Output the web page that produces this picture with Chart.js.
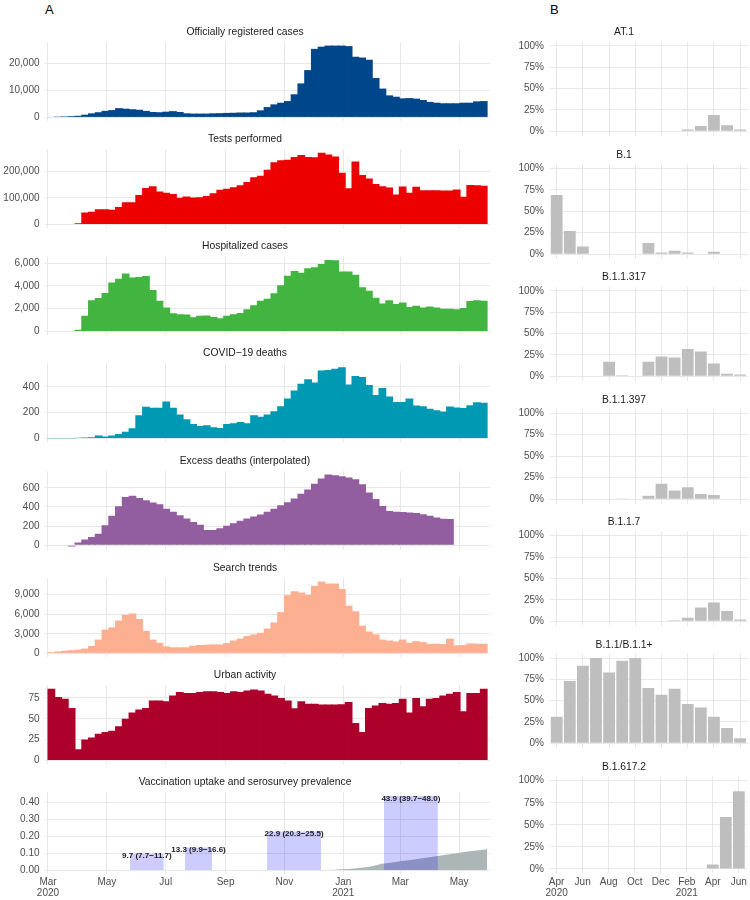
<!DOCTYPE html>
<html>
<head>
<meta charset="utf-8">
<script src="https://cdn.jsdelivr.net/npm/chart.js@4.4.1/dist/chart.umd.min.js"></script>
<style>
  html, body { margin: 0; padding: 0; background: #fff; overflow: hidden; }
  body { width: 750px; height: 900px; position: relative; font-family: "Liberation Sans", Arial, sans-serif; }
  .panel { position: absolute; }
  .tag { position: absolute; font-size: 13px; line-height: 13px; color: #000; }
</style>
</head>
<body>
<div class="tag" style="left:45px; top:3px">A</div>
<div class="tag" style="left:550px; top:3px">B</div>
<script>
// ---- data: weekly series, first week starts 2020-03-01 ----
const firstDay = '2020-03-01'

const casesWeekly = [200, 300, 350, 450, 600, 1000, 1500, 1900, 2400, 2700,
  3400, 3200, 3000, 2800, 2400, 2000, 1900, 2100, 2300, 2000,
  1500, 1400, 1400, 1400, 1500, 1550, 1650, 1700, 1800, 1800,
  1900, 2600, 3800, 4800, 5400, 6000, 8500, 12500, 17400, 25200,
  26000, 26400, 26400, 26400, 26200, 22300, 22000, 21200, 14500, 10600,
  8100, 7600, 7000, 7100, 6900, 6400, 5700, 5400, 5200, 5200,
  5200, 5400, 5400, 5900, 6000]

const testsWeekly = [2000, 2000, 2000, 2000, 4000, 45000, 48000, 57000, 57000, 55000,
  65000, 83000, 83000, 110000, 137000, 143000, 124000, 119000, 114000, 100000,
  105000, 101000, 102000, 107000, 117000, 130000, 134000, 140000, 147000, 159000,
  177000, 183000, 205000, 233000, 241000, 243000, 253000, 261000, 253000, 252000,
  269000, 263000, 255000, 194000, 136000, 236000, 186000, 172000, 152000, 143000,
  139000, 112000, 142000, 119000, 141000, 128000, 128000, 128000, 127000, 127000,
  131000, 104000, 148000, 147000, 145000]

const hospWeekly = [30, 30, 30, 30, 150, 1380, 2730, 2930, 3380, 4300,
  4620, 5100, 4730, 4790, 4870, 3630, 2700, 2110, 1600, 1520,
  1490, 1240, 1380, 1410, 1270, 1150, 1380, 1520, 1630, 1940,
  2310, 2700, 2870, 3350, 4060, 4900, 5300, 5150, 5550, 5630,
  5920, 6280, 6250, 5270, 5270, 4990, 3890, 3580, 2960, 2450,
  2730, 2400, 2540, 2140, 2250, 2110, 2200, 2110, 2000, 2000,
  1940, 2060, 2680, 2730, 2700]

const deathsWeekly = [2, 2, 2, 2, 5, 7, 10, 22, 15, 22,
  35, 52, 80, 181, 246, 238, 238, 288, 238, 186,
  149, 112, 97, 102, 87, 82, 112, 119, 127, 119,
  181, 169, 186, 211, 251, 311, 373, 425, 460, 435,
  529, 532, 542, 554, 420, 485, 477, 415, 338, 393,
  326, 283, 283, 311, 256, 251, 231, 219, 209, 249,
  241, 236, 258, 281, 278]

const excessWeekly = [null, null, null, -12, 30, 60, 87, 120, 210, 307,
  407, 503, 517, 493, 470, 447, 427, 380, 350, 313,
  280, 243, 213, 160, 160, 177, 203, 230, 257, 280,
  300, 320, 350, 380, 417, 450, 487, 537, 583, 643,
  697, 740, 730, 720, 707, 690, 637, 550, 483, 410,
  357, 350, 347, 343, 337, 323, 307, 290, 277, 273,
  null, null, null, null, null]

const searchWeekly = [200, 300, 400, 490, 590, 740, 1130, 2110, 3640, 3980,
  5020, 5900, 6100, 5260, 3440, 2110, 1620, 1080, 930, 930,
  930, 1180, 1280, 1330, 1380, 1380, 1570, 1970, 2260, 2660,
  2900, 3150, 3790, 4720, 6300, 8900, 9490, 9290, 8950, 10330,
  10970, 10670, 10670, 9840, 7280, 6440, 4230, 3340, 2900, 2110,
  1970, 1820, 2110, 1620, 1870, 1720, 1430, 1480, 1430, 2260,
  1230, 1280, 1520, 1480, 1480]

const urbanWeekly = [86, 76, 74, 63, 13.5, 25, 27.5, 32, 34, 35.5,
  41, 50, 57.5, 61, 63, 72, 72, 71, 78, 82,
  81, 81, 82, 83, 83, 82, 81, 83, 82, 84,
  85, 84, 80, 78, 75, 72, 62.5, 71, 68, 68,
  67, 67, 67, 67.5, 70, 45, 34, 63, 66, 69,
  68, 69, 74, 57.5, 75, 65, 74, 75, 78, 80,
  82, 59, 81, 81, 86]

// vaccination uptake (share of population)
const vaccDates = ['2020-12-16', '2020-12-23', '2020-12-30', '2021-01-06', '2021-01-13',
  '2021-01-20', '2021-01-27', '2021-02-03', '2021-02-10', '2021-02-17', '2021-02-24',
  '2021-03-03', '2021-03-10', '2021-03-17', '2021-03-24', '2021-03-31', '2021-04-07',
  '2021-04-14', '2021-04-21', '2021-04-28', '2021-05-05', '2021-05-12', '2021-05-19',
  '2021-05-26', '2021-05-30']
const vaccUptake = [0, 0.002, 0.004, 0.006, 0.009, 0.013, 0.018, 0.027, 0.037, 0.042, 0.047,
  0.053, 0.058, 0.064, 0.070, 0.076, 0.082, 0.088, 0.094, 0.100, 0.106, 0.111, 0.116,
  0.121, 0.124]

// serosurveys
const seroStart = ['2020-05-25', '2020-07-21', '2020-10-14', '2021-02-12']
const seroEnd = ['2020-06-29', '2020-08-18', '2020-12-09', '2021-04-09']
const seroPrev = [0.097, 0.133, 0.229, 0.439]
const seroLow = [7.7, 9.9, 20.3, 39.7]
const seroHigh = [11.7, 16.6, 25.5, 48.0]

// left axis ticks
const leftTickDates = ['2020-03-01', '2020-05-01', '2020-07-01', '2020-09-01',
  '2020-11-01', '2021-01-01', '2021-03-01', '2021-05-01']
const leftTickLabels = ['Mar\n2020', 'May', 'Jul', 'Sep', 'Nov', 'Jan\n2021', 'Mar', 'May']
const casesTicks = [0, 10000, 20000]
const testsTicks = [0, 100000, 200000]
const hospTicks = [0, 2000, 4000, 6000]
const deathsTicks = [0, 200, 400]
const excessTicks = [0, 200, 400, 600]
const searchTicks = [0, 3000, 6000, 9000]
const urbanTicks = [0, 25, 50, 75]
const seroTicks = [0, 0.1, 0.2, 0.3, 0.4]

// ---- variants: monthly share, Apr 2020 .. Jun 2021 ----
const variantMonths = ['2020-04', '2020-05', '2020-06', '2020-07', '2020-08', '2020-09',
  '2020-10', '2020-11', '2020-12', '2021-01', '2021-02', '2021-03', '2021-04', '2021-05', '2021-06']
const at1Share = [0, 0, 0, 0, 0, 0, 0, 0, 0, 0, 0.02, 0.06, 0.19, 0.07, 0.02]
const b1Share = [0.69, 0.27, 0.09, 0, 0, 0, 0, 0.13, 0.02, 0.04, 0.02, 0.005, 0.03, 0, 0]
const b11317Share = [0, 0, 0, 0, 0.17, 0.01, 0, 0.17, 0.23, 0.22, 0.32, 0.29, 0.15, 0.03, 0.02]
const b11397Share = [0, 0, 0, 0, 0, 0.008, 0, 0.04, 0.18, 0.10, 0.14, 0.06, 0.05, 0, 0]
const b117Share = [0, 0, 0, 0, 0, 0, 0, 0, 0, 0.01, 0.04, 0.16, 0.22, 0.12, 0.02]
const b11Share = [0.31, 0.73, 0.91, 1.00, 0.83, 0.97, 1.00, 0.65, 0.57, 0.64, 0.46, 0.42, 0.31, 0.18, 0.06]
const b16172Share = [0, 0, 0, 0, 0, 0, 0, 0, 0, 0, 0, 0, 0.05, 0.59, 0.88]
const variantTicks = [0, 2, 4, 6, 8, 10, 12, 14]
const variantTickLabels = ['Apr\n2020', 'Jun', 'Aug', 'Oct', 'Dec', 'Feb\n2021', 'Apr', 'Jun']
const shareTicks = [0, 0.25, 0.5, 0.75, 1]

// ---- helpers ----
const fontFamily = '"Liberation Sans", Arial, sans-serif'
const gridColor = '#e8e8e8'
const tickColor = '#4d4d4d'
const DAY_MS = 86400000
const toDay = d => (Date.parse(d) - Date.parse(firstDay)) / DAY_MS
const weekCenters = casesWeekly.map((v, i) => i * 7 + 3.5)
const leftTickDays = leftTickDates.map(toDay)

function addCanvas(left, top, width, height) {
    const div = document.createElement('div')
    div.className = 'panel'
    div.style.left = left + 'px'
    div.style.top = top + 'px'
    div.style.width = width + 'px'
    div.style.height = height + 'px'
    const c = document.createElement('canvas')
    div.appendChild(c)
    document.body.appendChild(div)
    return c
}

function yRange(values) {
    const v = values.filter(x => x !== null)
    const lo = Math.min(0, ...v)
    const hi = Math.max(...v)
    const pad = (hi - lo) * 0.05
    return { min: lo - pad, max: hi + pad }
}

// g: geometry, o: axis settings
function buildOptions(g, o) {
    const tickFont = { family: fontFamily, size: 10, lineHeight: 1.1 }
    return {
        responsive: true,
        maintainAspectRatio: false,
        animation: false,
        events: [],
        layout: { padding: { top: g.padTop, bottom: g.padBottom, left: 0, right: g.padRight } },
        plugins: {
            legend: { display: false },
            tooltip: { enabled: false },
            title: {
                display: true,
                text: o.title,
                color: '#1a1a1a',
                font: { family: fontFamily, size: 10.3, weight: 'normal', lineHeight: '12px' },
                padding: { top: 4, bottom: g.titlePadBottom }
            }
        },
        scales: {
            x: {
                type: 'linear',
                min: o.xMin,
                max: o.xMax,
                offset: false,
                grid: { color: gridColor, lineWidth: 1, drawTicks: false, offset: false },
                border: { display: false },
                ticks: {
                    display: g.showX,
                    color: tickColor,
                    font: tickFont,
                    padding: 3,
                    maxRotation: 0,
                    autoSkip: false,
                    callback: (v, i) => o.xLabels[i].split('\n')
                },
                afterBuildTicks: s => { s.ticks = o.xTicks.map(v => ({ value: v })) },
                afterFit: s => { s.height = g.axisH }
            },
            y: {
                type: 'linear',
                min: o.yMin,
                max: o.yMax,
                grid: { color: gridColor, lineWidth: 1, drawTicks: false },
                border: { display: false },
                ticks: {
                    color: tickColor,
                    font: tickFont,
                    padding: g.yPad,
                    callback: v => o.yFmt(v)
                },
                afterBuildTicks: s => { s.ticks = o.yTicks.map(v => ({ value: v })) },
                afterFit: s => { s.width = g.yAxisW }
            }
        }
    }
}

function geometry(plotTop, plotH, titleBox, axisH, padBottom) {
    const top = Math.floor(plotTop - titleBox)
    const extra = plotTop - titleBox - top
    const height = Math.ceil(extra + titleBox + plotH + axisH + padBottom)
    return { top, height, padTop: extra, padBottom: height - (extra + titleBox + plotH + axisH) }
}

// ---- panel A ----
const leftPanels = [
    { title: 'Officially registered cases', values: casesWeekly, color: '#00468B', ticks: casesTicks },
    { title: 'Tests performed', values: testsWeekly, color: '#ED0000', ticks: testsTicks },
    { title: 'Hospitalized cases', values: hospWeekly, color: '#42B540', ticks: hospTicks },
    { title: 'COVID\u221219 deaths', values: deathsWeekly, color: '#0099B4', ticks: deathsTicks },
    { title: 'Excess deaths (interpolated)', values: excessWeekly, color: '#925E9F', ticks: excessTicks },
    { title: 'Search trends', values: searchWeekly, color: '#FDAF91', ticks: searchTicks },
    { title: 'Urban activity', values: urbanWeekly, color: '#AD002A', ticks: urbanTicks }
]

const leftPlotH = 81.3
const leftPitch = 107.2
const leftFirstTop = 42

leftPanels.forEach((p, k) => {
    const g0 = geometry(leftFirstTop + k * leftPitch, leftPlotH, 20, 0, 8)
    const g = Object.assign(g0, { padRight: 0, titlePadBottom: 4, showX: false, axisH: 0, yPad: 5.5, yAxisW: 45 })
    const r = yRange(p.values)
    const canvas = addCanvas(0, g.top, 490, g.height)
    new Chart(canvas, {
        type: 'bar',
        data: {
            datasets: [{
                data: p.values.map((v, i) => ({ x: weekCenters[i], y: v })),
                backgroundColor: p.color,
                borderWidth: 0,
                barPercentage: 1.15,
                categoryPercentage: 1
            }]
        },
        options: buildOptions(g, {
            title: p.title,
            xMin: -3.1, xMax: 458,
            xTicks: leftTickDays, xLabels: leftTickLabels,
            yMin: r.min, yMax: r.max, yTicks: p.ticks,
            yFmt: v => v.toLocaleString('en-US')
        })
    })
})

// vaccination + serosurvey panel
const seroLabelPlugin = {
    id: 'seroLabels',
    afterDatasetsDraw(chart) {
        const { ctx, scales: { x, y } } = chart
        ctx.save()
        ctx.font = 'bold 8px ' + fontFamily
        ctx.fillStyle = '#1a1a1a'
        ctx.textAlign = 'center'
        ctx.textBaseline = 'middle'
        seroPrev.forEach((p, i) => {
            const mid = (toDay(seroStart[i]) + toDay(seroEnd[i])) / 2
            const text = `${(p * 100).toFixed(1)} (${seroLow[i].toFixed(1)}\u2212${seroHigh[i].toFixed(1)})`
            ctx.fillText(text, x.getPixelForValue(mid), y.getPixelForValue(p) + 2.5)
        })
        ctx.restore()
    }
}

{
    const k = 7
    const g0 = geometry(leftFirstTop + k * leftPitch, leftPlotH, 20, 28, 0)
    const g = Object.assign(g0, { padRight: 0, titlePadBottom: 4, showX: true, axisH: 28, yPad: 5.5, yAxisW: 45 })
    const r = yRange(seroPrev.concat(vaccUptake))
    const seroSets = seroPrev.map((p, i) => ({
        data: [{ x: toDay(seroStart[i]), y: p }, { x: toDay(seroEnd[i]), y: p }],
        fill: 'origin',
        backgroundColor: 'rgba(0, 0, 255, 0.2)',
        borderColor: 'rgba(0, 0, 0, 0)',
        borderWidth: 0,
        pointRadius: 0,
        order: 1
    }))
    const vaccSet = {
        data: vaccDates.map((d, i) => ({ x: toDay(d), y: vaccUptake[i] })),
        fill: 'origin',
        backgroundColor: '#ADB6B6',
        borderColor: 'rgba(0, 0, 0, 0)',
        borderWidth: 0,
        pointRadius: 0,
        tension: 0,
        order: 2
    }
    const canvas = addCanvas(0, g.top, 490, g.height)
    new Chart(canvas, {
        type: 'line',
        data: { datasets: seroSets.concat([vaccSet]) },
        options: buildOptions(g, {
            title: 'Vaccination uptake and serosurvey prevalence',
            xMin: -3.1, xMax: 458,
            xTicks: leftTickDays, xLabels: leftTickLabels,
            yMin: r.min, yMax: r.max, yTicks: seroTicks,
            yFmt: v => v.toFixed(2)
        }),
        plugins: [seroLabelPlugin]
    })
}

// ---- panel B ----
const rightPanels = [
    { title: 'AT.1', values: at1Share },
    { title: 'B.1', values: b1Share },
    { title: 'B.1.1.317', values: b11317Share },
    { title: 'B.1.1.397', values: b11397Share },
    { title: 'B.1.1.7', values: b117Share },
    { title: 'B.1.1/B.1.1+', values: b11Share },
    { title: 'B.1.617.2', values: b16172Share }
]

const rightPlotH = 97.1
const rightPitch = 122.45
const rightFirstTop = 41.6

rightPanels.forEach((p, j) => {
    const last = j === rightPanels.length - 1
    const axisH = last ? 28 : 0
    const g0 = geometry(rightFirstTop + j * rightPitch, rightPlotH, 19, axisH, last ? 0 : 8)
    const g = Object.assign(g0, { padRight: 2, titlePadBottom: 3, showX: last, axisH: axisH, yPad: 6, yAxisW: 50 })
    const canvas = addCanvas(500, g.top, 250, g.height)
    new Chart(canvas, {
        type: 'bar',
        data: {
            datasets: [{
                data: p.values.map((v, i) => ({ x: i, y: v })),
                backgroundColor: '#BEBEBE',
                borderWidth: 0,
                barPercentage: 0.9,
                categoryPercentage: 1
            }]
        },
        options: buildOptions(g, {
            title: p.title,
            xMin: -0.51, xMax: variantMonths.length - 0.4,
            xTicks: variantTicks, xLabels: variantTickLabels,
            yMin: -0.05, yMax: 1.05, yTicks: shareTicks,
            yFmt: v => Math.round(v * 100) + '%'
        })
    })
})
</script>
</body>
</html>
